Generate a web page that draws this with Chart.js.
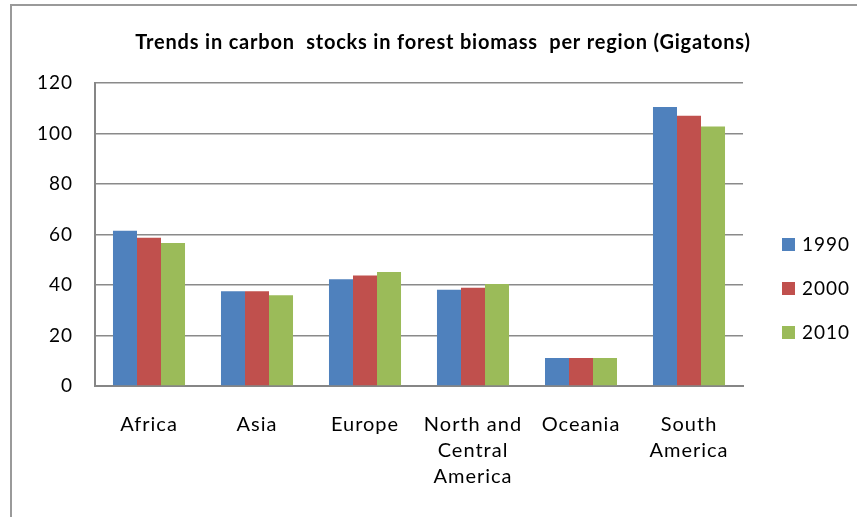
<!DOCTYPE html>
<html>
<head>
<meta charset="utf-8">
<script src="https://cdn.jsdelivr.net/npm/chart.js@4/dist/chart.umd.min.js"></script>
<style>
  html,body{margin:0;padding:0;background:#fff;}
  #wrap{position:relative;width:857px;height:517px;overflow:hidden;}
  #frame{position:absolute;left:10px;top:4px;width:900px;height:600px;border-left:2px solid #9a9a9a;border-top:2px solid #9a9a9a;}
  canvas{position:absolute;left:0;top:0;}
</style>
</head>
<body>
<div id="wrap">
  <div id="frame"></div>
  <canvas id="chart" width="857" height="517"></canvas>
</div>
<script>
// carbon stocks in forest biomass, gigatons
const regions = ['Africa', 'Asia', 'Europe', ['North and', 'Central', 'America'], 'Oceania', ['South', 'America']];
const years = ['1990', '2000', '2010'];
const stock1990 = [61.5, 37.5, 42.3, 38.1, 11.1, 110.5];
const stock2000 = [58.7, 37.5, 43.8, 38.9, 11.1, 107.0];
const stock2010 = [56.6, 35.9, 45.1, 40.4, 11.1, 102.8];
const yTicks = [0, 20, 40, 60, 80, 100, 120];

const TITLE = 'Trends in carbon  stocks in forest biomass  per region (Gigatons)';
const FONT = 'Lato, "Open Sans", sans-serif';
const COLORS = ['#4F81BD', '#C0504D', '#9BBB59'];

// slightly loose tracking on all text; canvas resets state on resize so set it per update
const tracking = {
  id: 'tracking',
  beforeLayout(chart) { chart.ctx.letterSpacing = '1px'; },
  beforeDraw(chart) { chart.ctx.letterSpacing = '1px'; }
};

// title + legend drawn by hand, Excel style
const decor = {
  id: 'decor',
  afterDraw(chart) {
    const ctx = chart.ctx;
    ctx.save();
    ctx.fillStyle = '#000';
    ctx.letterSpacing = '0.8px';
    ctx.font = 'bold 20px ' + FONT;
    ctx.textAlign = 'center';
    ctx.textBaseline = 'middle';
    ctx.fillText(TITLE, 443, 43);
    ctx.letterSpacing = '1px';
    ctx.font = '19px ' + FONT;
    ctx.textAlign = 'left';
    chart.data.datasets.forEach((ds, i) => {
      const y = 245 + i * 44;
      ctx.fillStyle = ds.backgroundColor;
      ctx.fillRect(782, y - 7, 13, 13);
      ctx.fillStyle = '#000';
      ctx.fillText(ds.label, 802, y);
    });
    ctx.restore();
  }
};

const series = [stock1990, stock2000, stock2010];

new Chart(document.getElementById('chart'), {
  type: 'bar',
  data: {
    labels: regions,
    datasets: series.map((d, i) => ({
      label: years[i],
      data: d,
      backgroundColor: COLORS[i],
      borderWidth: 0,
      barPercentage: 1,
      categoryPercentage: 0.667
    }))
  },
  options: {
    responsive: false,
    animation: false,
    layout: {padding: {left: 10, right: 114, top: 83, bottom: 0}},
    plugins: {legend: {display: false}, title: {display: false}, tooltip: {enabled: false}},
    scales: {
      x: {
        afterFit: s => { s.height = 131; },
        grid: {display: false, drawTicks: false},
        border: {color: '#868686', width: 2},
        ticks: {color: '#000', font: {family: FONT, size: 20, lineHeight: 1.3}, padding: 26, maxRotation: 0, autoSkip: false}
      },
      y: {
        min: 0, max: 120,
        afterFit: s => { s.width = 85; },
        afterBuildTicks: s => { s.ticks = yTicks.map(v => ({value: v})); },
        grid: {color: '#8a8a8a', lineWidth: 1.5, drawTicks: false},
        border: {color: '#868686', width: 2},
        ticks: {color: '#000', font: {family: FONT, size: 19}, padding: 22}
      }
    }
  },
  plugins: [tracking, decor]
});
</script>
</body>
</html>
